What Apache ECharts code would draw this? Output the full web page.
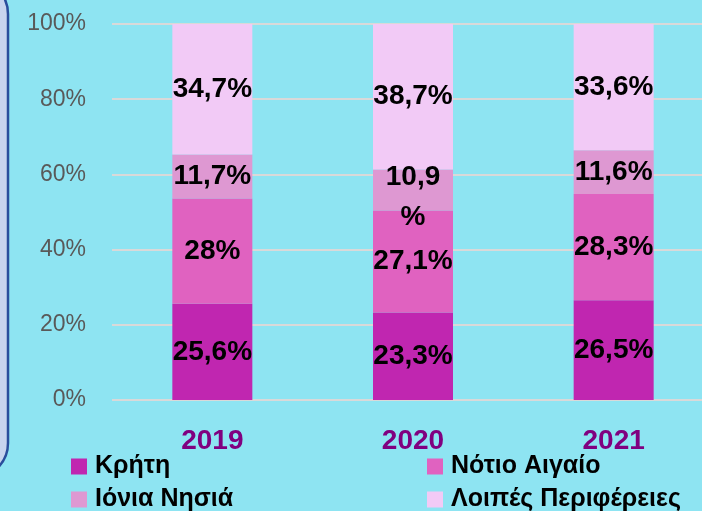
<!DOCTYPE html>
<html>
<head>
<meta charset="utf-8">
<script src="https://cdn.jsdelivr.net/npm/echarts@6/dist/echarts.min.js"></script>
<style>
  html, body { margin: 0; padding: 0; background: #8ee4f2; }
  #main { width: 702px; height: 511px; }
</style>
</head>
<body>
<div id="main"></div>
<script>
var years = ['2019', '2020', '2021'];
var kriti = [25.6, 23.3, 26.5];
var notioAigaio = [28, 27.1, 28.3];
var ioniaNisia = [11.7, 10.9, 11.6];
var loipes = [34.7, 38.7, 33.6];
var yTicks = [0, 20, 40, 60, 80, 100];

var FONT = '"Liberation Sans", Arial, sans-serif';

function pct(v) {
    return String(v).replace('.', ',') + '%';
}

function makeSeries(name, values, color) {
    return {
        name: name,
        type: 'bar',
        stack: 'total',
        barWidth: 80,
        itemStyle: {color: color},
        label: {
            show: true,
            position: 'inside',
            color: '#000',
            fontFamily: FONT,
            fontWeight: 'bold',
            fontSize: 28,
            formatter: function (p) { return pct(p.value); }
        },
        data: values.map(function (v, i) {
            // 2020 island label wraps in the original
            if (name === 'Ιόνια Νησιά' && i === 1) {
                return {value: v, label: {formatter: '10,9\n%', lineHeight: 40, offset: [0, 7]}};
            }
            return v;
        })
    };
}

// one legend per item so they sit in a 2x2 block
function legendItem(name, left, top) {
    return {
        left: left, top: top,
        padding: 0,
        itemWidth: 16, itemHeight: 16,
        icon: 'rect',
        textStyle: {fontFamily: FONT, fontWeight: 'bold', fontSize: 25, color: '#000', padding: [0, 0, 0, 3]},
        data: [name]
    };
}

var chart = echarts.init(document.getElementById('main'));
chart.setOption({
    backgroundColor: '#8ee4f2',
    animation: false,
    graphic: [{
        type: 'rect',
        shape: {x: -100, y: -21, width: 108, height: 499, r: 35},
        style: {fill: '#c8d4ee', stroke: '#2a4e9c', lineWidth: 2.5},
        z: -1
    }],
    grid: {left: 112, top: 24, width: 602, height: 376, outerBoundsMode: 'none'},
    legend: [
        legendItem('Κρήτη', 71, 454),
        legendItem('Ιόνια Νησιά', 71, 487),
        legendItem('Νότιο Αιγαίο', 427, 454),
        legendItem('Λοιπές Περιφέρειες', 427, 487)
    ],
    xAxis: {
        type: 'category',
        data: years,
        axisLine: {show: false},
        axisTick: {show: false},
        axisLabel: {color: '#800080', fontFamily: FONT, fontWeight: 'bold', fontSize: 28, margin: 27}
    },
    yAxis: {
        type: 'value',
        min: yTicks[0],
        max: yTicks[yTicks.length - 1],
        interval: yTicks[1] - yTicks[0],
        axisLine: {show: false},
        axisTick: {show: false},
        splitLine: {lineStyle: {color: '#d9d9d9', width: 2}},
        axisLabel: {color: '#595959', fontFamily: FONT, fontSize: 23, margin: 26, formatter: '{value}%'}
    },
    series: [
        makeSeries('Κρήτη', kriti, '#c026b0'),
        makeSeries('Νότιο Αιγαίο', notioAigaio, '#e062c0'),
        makeSeries('Ιόνια Νησιά', ioniaNisia, '#de98d2'),
        makeSeries('Λοιπές Περιφέρειες', loipes, '#f2caf6')
    ]
});
</script>
</body>
</html>
